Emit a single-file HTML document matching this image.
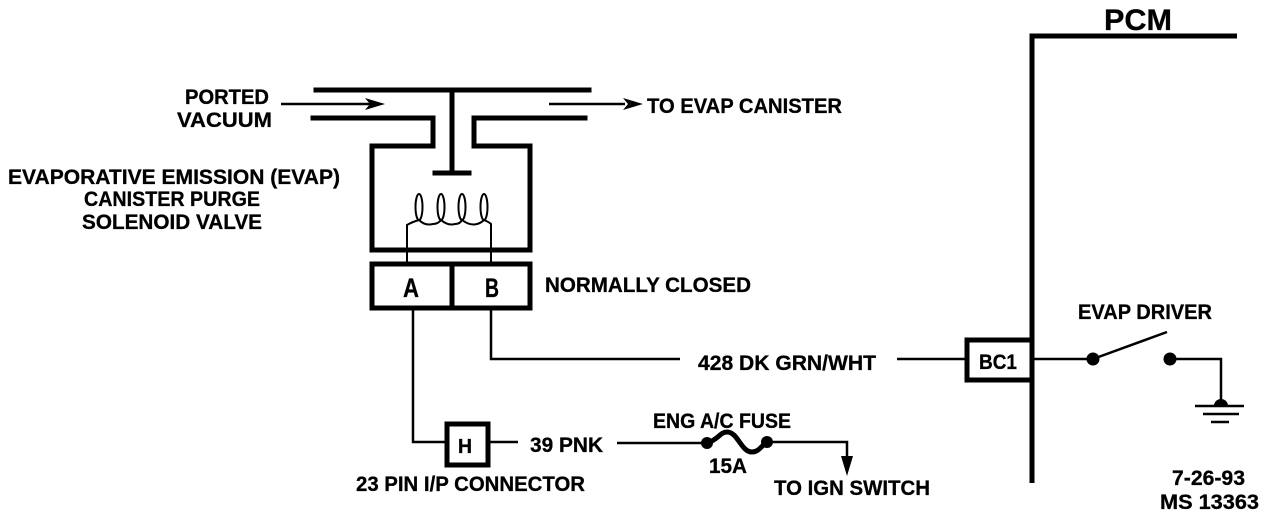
<!DOCTYPE html>
<html><head><meta charset="utf-8"><style>
html,body{margin:0;padding:0;background:#fff;width:1280px;height:516px;overflow:hidden}
svg{display:block}
text{font-family:"Liberation Sans",sans-serif;font-weight:bold;font-size:21px;fill:#000;stroke:#000;stroke-width:.3}
</style></head><body>
<svg width="1280" height="516" viewBox="0 0 1280 516" xmlns="http://www.w3.org/2000/svg">
<rect width="1280" height="516" fill="#fff"/>
<g fill="none" stroke="#000" stroke-width="5" stroke-linecap="square" stroke-linejoin="miter">
<path d="M316 90H589"/>
<path d="M313 118H433V146H372V250H530V146H474V118H585"/>
<path d="M452 90V173"/>
<path d="M435 173H469"/>
<path d="M372 264H530V308H372Z"/>
<path d="M452 264V308"/>
<path d="M447 424H488V465H447Z"/>
<path d="M1032 340H967V380H1032"/>
<path d="M1237 36H1032V483" stroke-linecap="butt"/>
</g>
<g fill="none" stroke="#000" stroke-width="2.5">
<ellipse cx="419" cy="207" rx="3.5" ry="13" stroke-width="2"/>
<ellipse cx="441" cy="207" rx="3.5" ry="13" stroke-width="2"/>
<ellipse cx="462" cy="207" rx="3.5" ry="13" stroke-width="2"/>
<ellipse cx="484" cy="207" rx="3.5" ry="13" stroke-width="2"/>
<path d="M407 262V225Q412 222 419 220Q425 226 433 224Q438 224 441 220Q448 226 455 224Q460 224 462 220Q470 226 477 224Q481 223 484 220Q489 222 491 224V262" stroke-width="2"/>
<path d="M413 308V442H445"/>
<path d="M491 308V359H680"/>
<path d="M897 359H965"/>
<path d="M490 442H518"/>
<path d="M617 443H702"/>
<path d="M772 442H847V462"/>
<path d="M1032 359H1093"/>
<path d="M1093 359L1167 332"/>
<path d="M1170 359H1221V405"/>
<path d="M281 104H372"/>
<path d="M549 104H625"/>
<path d="M1195 406H1244"/>
<path d="M1203 414H1239"/>
<path d="M1211 422H1229"/>
</g>
<path d="M707 443C718 440 720 432 727 432C738 432 741 452 752 452C759 452 762 445 767 442" fill="none" stroke="#000" stroke-width="5"/>
<g fill="#000">
<circle cx="707" cy="443" r="6"/>
<circle cx="767" cy="442" r="6"/>
<circle cx="1093" cy="359" r="6.5"/>
<circle cx="1170" cy="359" r="6.5"/>
<path d="M1214 406A7 7 0 0 1 1228 406Z"/>
<path d="M385 104L365 98L370 104L365 110Z"/>
<path d="M643 104L623 98L628 104L623 110Z"/>
<path d="M847 476L841 456H853Z"/>
</g>
<text x="185" y="104" textLength="84" lengthAdjust="spacingAndGlyphs">PORTED</text>
<text x="177" y="127" textLength="95" lengthAdjust="spacingAndGlyphs">VACUUM</text>
<text x="647" y="113" textLength="195" lengthAdjust="spacingAndGlyphs">TO EVAP CANISTER</text>
<text x="8" y="184" textLength="332" lengthAdjust="spacingAndGlyphs">EVAPORATIVE EMISSION (EVAP)</text>
<text x="84" y="206" textLength="176" lengthAdjust="spacingAndGlyphs">CANISTER PURGE</text>
<text x="82" y="229" textLength="180" lengthAdjust="spacingAndGlyphs">SOLENOID VALVE</text>
<text x="545" y="292" textLength="206" lengthAdjust="spacingAndGlyphs">NORMALLY CLOSED</text>
<text x="403" y="297" textLength="16" lengthAdjust="spacingAndGlyphs" style="font-size:27px">A</text>
<text x="485" y="297" textLength="14" lengthAdjust="spacingAndGlyphs" style="font-size:27px">B</text>
<text x="698" y="370" textLength="178" lengthAdjust="spacingAndGlyphs">428 DK GRN/WHT</text>
<text x="458" y="453" textLength="14" lengthAdjust="spacingAndGlyphs" style="font-size:20px">H</text>
<text x="530" y="452" textLength="73" lengthAdjust="spacingAndGlyphs">39 PNK</text>
<text x="356" y="491" textLength="229" lengthAdjust="spacingAndGlyphs">23 PIN I/P CONNECTOR</text>
<text x="653" y="428" textLength="138" lengthAdjust="spacingAndGlyphs">ENG A/C FUSE</text>
<text x="709" y="473" textLength="38" lengthAdjust="spacingAndGlyphs">15A</text>
<text x="774" y="495" textLength="156" lengthAdjust="spacingAndGlyphs">TO IGN SWITCH</text>
<text x="979" y="369" textLength="38" lengthAdjust="spacingAndGlyphs">BC1</text>
<text x="1078" y="319" textLength="134" lengthAdjust="spacingAndGlyphs">EVAP DRIVER</text>
<text x="1104" y="30" textLength="68" lengthAdjust="spacingAndGlyphs" style="font-size:30px">PCM</text>
<text x="1172" y="485" textLength="73" lengthAdjust="spacingAndGlyphs">7-26-93</text>
<text x="1160" y="509" textLength="99" lengthAdjust="spacingAndGlyphs">MS 13363</text>
</svg>
</body></html>
